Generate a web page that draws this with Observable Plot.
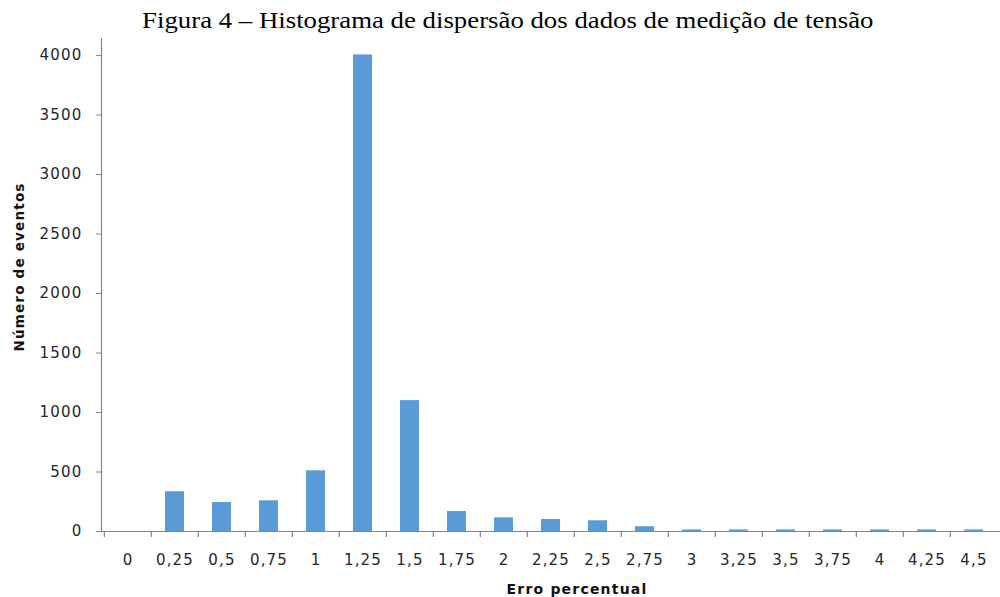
<!DOCTYPE html>
<html>
<head>
<meta charset="utf-8">
<script src="https://cdn.jsdelivr.net/npm/d3@7"></script>
<script src="https://cdn.jsdelivr.net/npm/@observablehq/plot@0.6"></script>
<style>
  html, body { margin: 0; padding: 0; background: #fff; }
  #title { height: 26px; padding-top: 7px; line-height: 26px; font-family: "Liberation Serif", "Times New Roman", serif; font-size: 23.5px; color: #000; text-align: center; padding-left: 16px; white-space: nowrap; }
  #title span { display: inline-block; transform: scaleX(1.14); transform-origin: center; }
  svg text { letter-spacing: 1.2px; }
</style>
</head>
<body>
<div id="title"><span>Figura 4 – Histograma de dispersão dos dados de medição de tensão</span></div>
<div id="chart"></div>
<script>
const categories = ["0","0,25","0,5","0,75","1","1,25","1,5","1,75","2","2,25","2,5","2,75","3","3,25","3,5","3,75","4","4,25","4,5"];
const counts = [0, 334, 244, 258, 510, 4005, 1100, 168, 115, 101, 90, 40, 13, 13, 13, 13, 13, 13, 13];
const yTicks = [0, 500, 1000, 1500, 2000, 2500, 3000, 3500, 4000];
const xTitle = "Erro percentual";
const yTitle = "Número de eventos";

const data = categories.map((c, i) => ({cat: c, n: counts[i]}));

const W = 1000, H = 564, mL = 101, mR = 0, mT = 5, mB = 66;
const step = (W - mL - mR) / categories.length;
const axisColor = "#868686";
const textColor = "#262626";
const font = "DejaVu Sans, sans-serif";

const plot = Plot.plot({
  width: W,
  height: H,
  marginLeft: mL,
  marginRight: mR,
  marginTop: mT,
  marginBottom: mB,
  style: {fontFamily: font, fontSize: "15px", color: textColor, background: "#fff"},
  x: {domain: categories, paddingInner: 0.59, paddingOuter: 0.295},
  y: {domain: [0, 4143]},
  marks: [
    Plot.barY(data, {x: "cat", y: "n", fill: "#5B9BD5"}),
    Plot.frame({anchor: "left", stroke: axisColor, strokeWidth: 1.2}),
    Plot.ruleY([0], {stroke: axisColor, strokeWidth: 1.2}),
    Plot.axisY(yTicks, {tickSize: 5, tickPadding: 14, stroke: axisColor, fill: textColor, fontSize: 15, label: null, tickFormat: d => String(d)}),
    Plot.axisX({tickSize: 0, tickPadding: 23, fill: textColor, fontSize: 15, label: null}),
    Plot.ruleX(categories, {x: d => d, dx: -step / 2, y1: 0, y2: 0, insetBottom: -6, stroke: axisColor, strokeWidth: 1.2}),
    Plot.text([xTitle], {frameAnchor: "bottom", dx: 26, dy: 62, fontWeight: "bold", fontSize: 14, fill: "#111"}),
    Plot.text([yTitle], {frameAnchor: "left", textAnchor: "middle", rotate: -90, dx: -82, dy: -18, fontWeight: "bold", fontSize: 13.5, fill: "#111"})
  ]
});
document.getElementById("chart").appendChild(plot);
</script>
</body>
</html>
